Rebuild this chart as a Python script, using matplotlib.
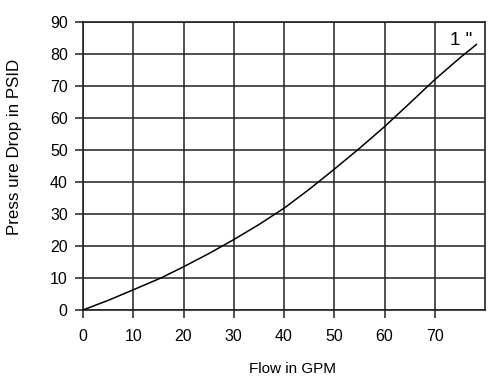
import matplotlib
matplotlib.use("Agg")
import matplotlib.pyplot as plt
import numpy as np

plt.rcParams['font.family'] = ['Liberation Sans', 'DejaVu Sans']

# curve
flow = [0, 5, 10, 15.5, 20, 25, 30, 35, 40, 45, 50, 55, 60, 65, 70, 75, 78.3]
psid = [0, 3.0, 6.3, 10, 13.5, 17.6, 22, 26.7, 31.8, 37.7, 44.0, 50.5, 57.3, 64.6, 72, 78.8, 83]
x_ticks = [0, 10, 20, 30, 40, 50, 60, 70]
y_ticks = [0, 10, 20, 30, 40, 50, 60, 70, 80, 90]
curve_label = '1 "'

fig = plt.figure(figsize=(5.0, 3.87), dpi=100)
ax = fig.add_axes([0.166, 0.199, 0.804, 0.744])

ax.plot(flow, psid, color='black', lw=1.1, zorder=3)
ax.text(75.3, 84.3, curve_label, fontsize=13.5, ha='center', va='center')

ax.set_xlim(0, 80)
ax.set_ylim(0, 90)
ax.set_xticks(x_ticks)
ax.set_yticks(y_ticks)
ax.grid(True, color='#222222', lw=1.1)
for s in ax.spines.values():
    s.set_linewidth(1.2)
    s.set_color('#222222')
ax.tick_params(axis='both', length=6, width=1.1, color='#222222', labelsize=11.5)
ax.tick_params(axis='x', pad=8)
ax.tick_params(axis='y', pad=5)

ax.set_xlabel('Flow in GPM', fontsize=11)
ax.set_ylabel('Press ure Drop in PSID', fontsize=12.2)
ax.xaxis.set_label_coords(0.522, -0.18)
ax.yaxis.set_label_coords(-0.152, 0.566)

fig.savefig('out.png', dpi=100)
